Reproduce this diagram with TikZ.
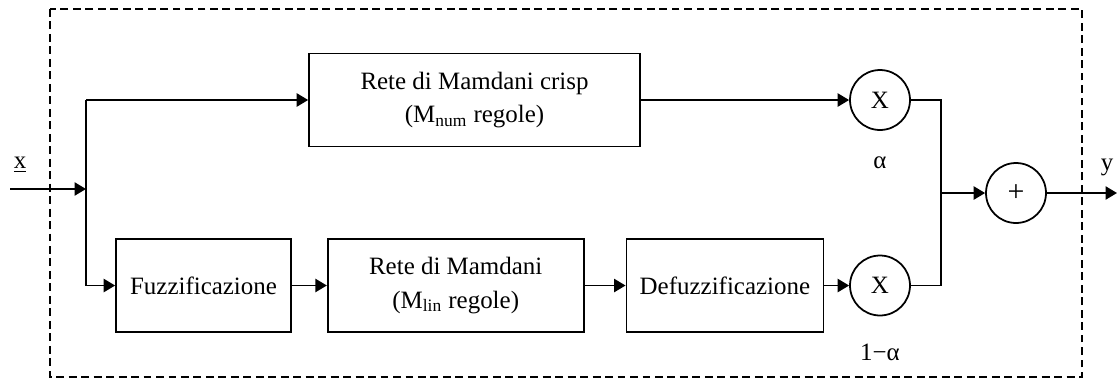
\documentclass[tikz,border=0pt]{standalone}
\usepackage{fontspec}
\setmainfont{Liberation Serif}
\usetikzlibrary{arrows.meta}
\usetikzlibrary{positioning}

\begin{document}
\begin{tikzpicture}[x=0.02cm,y=-0.02cm]
      \tikzset{
        >={Triangle[length=6.5pt,width=7.5pt]},
        every node/.style={font=\fontsize{14.2}{19}\selectfont},
        block/.style={draw,line width=1pt,align=center,minimum height=1.86cm},
        mult/.style={draw,circle,line width=1pt,minimum size=1.2cm,inner sep=0pt},
        wire/.style={line width=1pt},
      }
      \useasboundingbox (0,0) rectangle (1117,380);
      \draw[line width=1pt,dash pattern=on 4.5pt off 2.6pt] (50,9) rectangle (1082,377);

      % input and branch
      \coordinate (in) at (10,189);
      \coordinate (br) at (86,189);
      \node at (20,165) {\underline{x}};

      % upper path
      \node[block, minimum width=6.62cm] (crisp) at (474.5,100)
        {Rete di Mamdani crisp\\(M\textsubscript{num} regole)};
      \node[mult] (mul1) at (880,100) {X};
      \node at (880,163) {α};

      % lower path
      \node[block, minimum width=3.5cm] (fuzz) at (203.5,285.5) {Fuzzificazione};
      \node[block, minimum width=5.12cm, right=0.7cm of fuzz] (lin)
        {Rete di Mamdani\\(M\textsubscript{lin} regole)};
      \node[block, minimum width=3.94cm, right=0.82cm of lin] (defuzz) {Defuzzificazione};
      \node[mult] (mul2) at (880,285.5) {X};
      \node at (880,352) {1−α};

      % sum and output
      \coordinate (join) at (941,193);
      \node[mult, font=\fontsize{17}{19}\selectfont] (sum) at (1016,193) {+};
      \coordinate (out) at (1117,193);
      \node at (1107,167) {y};

      \draw[wire,->] (in) -- (br);
      \draw[wire] (br |- crisp.west) -- (br |- fuzz.west);
      \draw[wire,->] (br |- crisp.west) -- (crisp.west);
      \draw[wire,->] (br |- fuzz.west) -- (fuzz.west);
      \draw[wire,->] (crisp) -- (mul1);
      \draw[wire,->] (fuzz) -- (lin);
      \draw[wire,->] (lin) -- (defuzz);
      \draw[wire,->] (defuzz) -- (mul2);
      \draw[wire] (mul1.east) -| (join) |- (mul2.east);
      \draw[wire,->] (join) -- (sum);
      \draw[wire,->] (sum) -- (out);
    \end{tikzpicture}
\end{document}
